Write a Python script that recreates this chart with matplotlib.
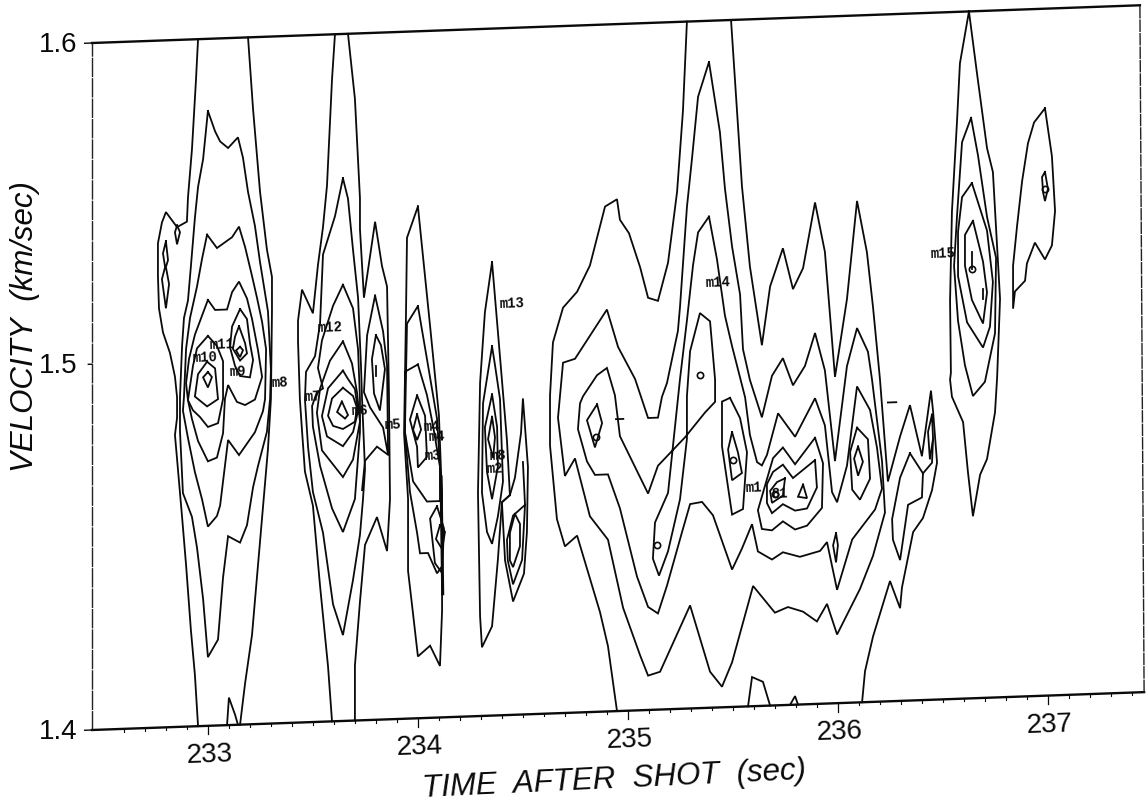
import matplotlib
matplotlib.use('Agg')
import matplotlib.pyplot as plt
from matplotlib.transforms import Affine2D

# contour vertices as (time after shot in s, velocity in km/s)
a_outer_left = [(232.955,1.600),(232.945,1.588),(232.926,1.568),(232.907,1.554),(232.902,1.547),(232.855,1.5455),(232.802,1.550),(232.783,1.547),(232.764,1.541),(232.764,1.5315),(232.769,1.522),(232.788,1.515),(232.821,1.509),(232.845,1.502),(232.855,1.496),(232.855,1.490),(232.845,1.485),(232.855,1.478),(232.879,1.461),(232.898,1.447),(232.921,1.428),(232.940,1.415),(232.955,1.400)]
a_outer_right = [(233.155,1.400),(233.179,1.412),(233.212,1.426),(233.226,1.436),(233.25,1.453),(233.288,1.480),(233.302,1.4945),(233.307,1.520),(233.307,1.530),(233.283,1.538),(233.25,1.555),(233.217,1.579),(233.193,1.600)]
a_bottom = [(233.093,1.400),(233.102,1.408),(233.131,1.403),(233.145,1.400)]
a2 = [(233.002,1.579),(233.036,1.573),(233.06,1.570),(233.098,1.568),(233.145,1.571),(233.169,1.565),(233.193,1.555),(233.226,1.545),(233.25,1.5345),(233.288,1.520),(233.302,1.503),(233.298,1.4945),(233.283,1.485),(233.24,1.475),(233.217,1.469),(233.188,1.458),(233.155,1.453),(233.098,1.455),(233.074,1.443),(233.05,1.425),(233.002,1.420),(232.979,1.437),(232.95,1.452),(232.926,1.461),(232.883,1.468),(232.869,1.486),(232.869,1.496),(232.879,1.511),(232.888,1.519),(232.907,1.524),(232.921,1.534),(232.94,1.548),(232.955,1.557),(232.979,1.565)]
a3 = [(232.998,1.543),(233.045,1.539),(233.117,1.542),(233.15,1.545),(233.179,1.539),(233.212,1.5305),(233.236,1.524),(233.26,1.517),(233.279,1.509),(233.274,1.4945),(233.264,1.491),(233.226,1.485),(233.15,1.4785),(233.098,1.483),(233.083,1.4755),(233.06,1.464),(233.045,1.461),(233.002,1.458),(232.974,1.466),(232.94,1.474),(232.907,1.484),(232.883,1.492),(232.888,1.496),(232.898,1.510),(232.917,1.519),(232.95,1.528),(232.974,1.536)]
a4 = [(233.002,1.524),(233.036,1.521),(233.093,1.521),(233.117,1.526),(233.15,1.529),(233.188,1.524),(233.212,1.518),(233.24,1.509),(233.26,1.501),(233.226,1.4945),(233.179,1.493),(233.14,1.494),(233.098,1.499),(233.083,1.495),(233.074,1.485),(233.045,1.478),(233.002,1.477),(232.955,1.483),(232.926,1.4895),(232.907,1.495),(232.898,1.500),(232.912,1.507),(232.94,1.514)]
a5 = [(233.002,1.5135),(232.95,1.510),(232.931,1.505),(232.907,1.495),(232.931,1.492),(232.964,1.490),(233.002,1.487),(233.05,1.488),(233.074,1.495),(233.074,1.506),(233.045,1.5105)]
a6 = [(232.998,1.506),(232.955,1.5025),(232.94,1.496),(232.998,1.493),(233.05,1.495),(233.036,1.504)]
a7 = [(233.002,1.503),(233.021,1.5015),(233.002,1.4985),(232.979,1.5015)]
a8 = [(233.155,1.521),(233.188,1.518),(233.202,1.511),(233.217,1.506),(233.202,1.501),(233.155,1.5015),(233.131,1.5045),(233.107,1.510),(233.117,1.516)]
a9 = [(233.15,1.516),(233.179,1.511),(233.188,1.508),(233.155,1.506),(233.121,1.5095),(233.131,1.513)]
a10 = [(233.155,1.510),(233.169,1.509),(233.155,1.507),(233.136,1.509)]
a_eight = [(232.802,1.5415),(232.812,1.536),(232.802,1.534),(232.817,1.529),(232.802,1.522),(232.783,1.5305),(232.798,1.534),(232.788,1.538)]
a_small = [(232.855,1.546),(232.869,1.544),(232.855,1.5405),(232.845,1.544)]

b_outer_left = [(233.607,1.600),(233.593,1.587),(233.569,1.556),(233.55,1.544),(233.526,1.533),(233.502,1.519),(233.45,1.526),(233.431,1.517),(233.431,1.511),(233.44,1.494),(233.45,1.485),(233.464,1.473),(233.502,1.463),(233.536,1.4395),(233.574,1.416),(233.593,1.400)]
b_outer_right = [(233.702,1.400),(233.702,1.416),(233.726,1.4345),(233.75,1.451),(233.807,1.459),(233.855,1.449),(233.869,1.464),(233.864,1.495),(233.855,1.526),(233.831,1.532),(233.798,1.545),(233.745,1.523),(233.726,1.543),(233.726,1.552),(233.702,1.581),(233.669,1.600)]
b2 = [(233.645,1.558),(233.669,1.552),(233.693,1.537),(233.717,1.523),(233.731,1.503),(233.736,1.4935),(233.75,1.473),(233.74,1.464),(233.726,1.454),(233.693,1.441),(233.645,1.425),(233.598,1.434),(233.55,1.455),(233.502,1.467),(233.479,1.480),(233.464,1.494),(233.469,1.502),(233.512,1.5065),(233.536,1.516),(233.55,1.536),(233.607,1.547)]
b3 = [(233.645,1.527),(233.693,1.520),(233.717,1.508),(233.726,1.4935),(233.726,1.484),(233.702,1.4645),(233.645,1.455),(233.593,1.462),(233.536,1.4745),(233.502,1.486),(233.498,1.492),(233.521,1.496),(233.55,1.497),(233.526,1.503),(233.545,1.511),(233.598,1.521)]
b4 = [(233.645,1.5105),(233.688,1.504),(233.712,1.4955),(233.726,1.487),(233.693,1.476),(233.645,1.471),(233.545,1.479),(233.521,1.490),(233.536,1.497),(233.583,1.505)]
b5 = [(233.645,1.502),(233.669,1.4995),(233.702,1.4965),(233.717,1.490),(233.693,1.484),(233.645,1.480),(233.569,1.483),(233.545,1.489),(233.574,1.497)]
b6 = [(233.645,1.497),(233.693,1.4945),(233.712,1.491),(233.702,1.487),(233.645,1.485),(233.598,1.486),(233.574,1.489),(233.593,1.494)]
b7 = [(233.64,1.493),(233.617,1.490),(233.655,1.488),(233.669,1.489)]
b_lobe = [(233.798,1.5235),(233.836,1.513),(233.855,1.503),(233.86,1.477),(233.836,1.485),(233.774,1.491),(233.745,1.4955),(233.76,1.512)]
b_notch = [(233.86,1.477),(233.807,1.4795),(233.75,1.4755),(233.736,1.467)]
b_lobe_in = [(233.802,1.512),(233.783,1.505),(233.793,1.495),(233.821,1.490),(233.845,1.502),(233.826,1.509)]
b_tick = [(233.802,1.503),(233.802,1.500)]

c1 = [(234.002,1.549),(234.026,1.5345),(234.06,1.514),(234.102,1.488),(234.117,1.4635),(234.117,1.431),(234.107,1.415),(234.06,1.421),(234.002,1.418),(233.974,1.433),(233.955,1.443),(233.955,1.464),(233.936,1.483),(233.945,1.517),(233.95,1.540)]
c2 = [(234.002,1.520),(233.95,1.515),(233.94,1.4835),(233.964,1.466),(233.998,1.454),(234.012,1.448),(234.05,1.448),(234.093,1.442),(234.117,1.444),(234.117,1.4635),(234.093,1.487),(234.045,1.5045)]
c3 = [(234.002,1.503),(233.94,1.501),(233.94,1.4835),(233.979,1.469),(234.045,1.463),(234.107,1.463),(234.107,1.473),(234.074,1.485),(234.045,1.494)]
c4 = [(233.998,1.494),(233.964,1.487),(233.998,1.479),(234.002,1.473),(234.045,1.476),(234.036,1.488)]
c5 = [(233.998,1.4885),(233.979,1.484),(233.998,1.481),(234.017,1.484)]
c6 = [(234.093,1.4615),(234.06,1.458),(234.083,1.445),(234.117,1.442),(234.126,1.455)]
c7 = [(234.107,1.456),(234.088,1.452),(234.117,1.449),(234.131,1.454)]
c_thick = [(234.112,1.470),(234.12,1.436)]

d1 = [(234.355,1.532),(234.379,1.5145),(234.426,1.480),(234.44,1.464),(234.402,1.462),(234.383,1.4455),(234.355,1.426),(234.307,1.420),(234.298,1.429),(234.288,1.465),(234.298,1.497),(234.321,1.5175)]
d2 = [(234.355,1.5075),(234.369,1.502),(234.393,1.492),(234.407,1.468),(234.383,1.458),(234.355,1.450),(234.331,1.4535),(234.307,1.465),(234.312,1.491)]
d3 = [(234.355,1.4935),(234.379,1.484),(234.383,1.4725),(234.355,1.463),(234.331,1.471),(234.321,1.484)]
d4 = [(234.355,1.487),(234.369,1.481),(234.36,1.475),(234.336,1.4805)]
d5 = [(234.44,1.464),(234.464,1.469),(234.493,1.482),(234.502,1.492),(234.526,1.472),(234.521,1.453),(234.507,1.441),(234.455,1.433),(234.417,1.445),(234.402,1.462)]
d6 = [(234.502,1.4735),(234.512,1.461),(234.455,1.458),(234.426,1.451),(234.43,1.445),(234.455,1.438),(234.498,1.445),(234.512,1.461)]
d7 = [(234.464,1.4585),(234.44,1.453),(234.44,1.445),(234.455,1.443),(234.488,1.449),(234.488,1.4555)]

big_a = [(234.95,1.400),(234.907,1.419),(234.869,1.429),(234.76,1.4515),(234.702,1.4485),(234.664,1.4565),(234.631,1.478),(234.631,1.4925),(234.645,1.508),(234.693,1.518),(234.76,1.5225),(234.821,1.530),(234.893,1.547),(234.95,1.549),(234.964,1.543),(235.007,1.539),(235.06,1.529),(235.098,1.520),(235.145,1.519),(235.193,1.530),(235.236,1.5505),(235.264,1.574),(235.283,1.600)]
big_a_right = [(235.493,1.600),(235.545,1.5515),(235.583,1.528),(235.64,1.505),(235.679,1.522),(235.74,1.533),(235.788,1.521),(235.836,1.527),(235.893,1.546),(235.94,1.5315),(235.988,1.495),(236.045,1.5175),(236.093,1.546),(236.14,1.531),(236.169,1.515),(236.202,1.494),(236.24,1.464),(236.298,1.477),(236.345,1.486),(236.402,1.471),(236.445,1.490),(236.455,1.484),(236.474,1.469),(236.45,1.461),(236.407,1.453),(236.36,1.449),(236.307,1.433),(236.298,1.427),(236.25,1.435),(236.169,1.419),(236.131,1.409),(236.117,1.400)]
big_b = [(235.388,1.588),(235.336,1.578),(235.307,1.560),(235.283,1.546),(235.25,1.517),(235.24,1.510),(235.188,1.495),(235.164,1.491),(235.145,1.485),(235.098,1.485),(235.036,1.4965),(234.955,1.506),(234.902,1.517),(234.75,1.503),(234.693,1.502),(234.669,1.486),(234.702,1.469),(234.75,1.474),(234.821,1.457),(234.907,1.450),(234.979,1.430),(235.06,1.416),(235.098,1.410),(235.155,1.411),(235.298,1.430),(235.393,1.4105),(235.45,1.406),(235.498,1.413),(235.598,1.435),(235.702,1.427),(235.764,1.4285),(235.836,1.427),(235.902,1.424),(235.95,1.429),(235.998,1.420),(236.107,1.433),(236.169,1.4425),(236.226,1.455),(236.212,1.470),(236.164,1.494),(236.145,1.502),(236.093,1.509),(236.045,1.498),(235.988,1.4705),(235.94,1.497),(235.893,1.508),(235.845,1.4985),(235.788,1.493),(235.74,1.501),(235.688,1.496),(235.64,1.484),(235.583,1.495),(235.55,1.504),(235.536,1.520),(235.498,1.534),(235.464,1.551),(235.44,1.5675)]
big_e = [(235.388,1.543),(235.426,1.5305),(235.464,1.514),(235.498,1.505),(235.56,1.490),(235.583,1.479),(235.617,1.471),(235.64,1.470),(235.664,1.473),(235.717,1.485),(235.798,1.478),(235.893,1.489),(235.94,1.481),(235.974,1.4615),(235.998,1.4585),(236.045,1.469),(236.093,1.492),(236.155,1.485),(236.188,1.474),(236.212,1.462),(236.179,1.456),(236.07,1.4475),(235.998,1.433),(235.95,1.447),(235.917,1.4445),(235.821,1.443),(235.74,1.4445),(235.688,1.4425),(235.621,1.445),(235.593,1.453),(235.545,1.446),(235.498,1.440),(235.407,1.456),(235.355,1.460),(235.298,1.4595),(235.26,1.4515),(235.188,1.436),(235.145,1.428),(235.098,1.430),(235.045,1.439),(234.964,1.459),(234.907,1.469),(234.845,1.469),(234.807,1.473),(234.764,1.4825),(234.774,1.490),(234.788,1.492),(234.855,1.498),(234.902,1.500),(234.94,1.492),(234.964,1.480),(235.098,1.463),(235.145,1.471),(235.274,1.479),(235.369,1.486),(235.417,1.489),(235.417,1.4955),(235.393,1.5125),(235.345,1.515),(235.298,1.504),(235.283,1.491),(235.283,1.4785),(235.25,1.461),(235.193,1.446),(235.15,1.439),(235.121,1.444),(235.131,1.4545),(235.193,1.463),(235.25,1.496),(235.283,1.513),(235.312,1.529),(235.336,1.5385)]
diamond_i = [(234.855,1.4895),(234.879,1.484),(234.845,1.477),(234.807,1.485)]
lobe_k = [(235.488,1.490),(235.536,1.484),(235.569,1.474),(235.55,1.4575),(235.498,1.456),(235.45,1.476),(235.45,1.489)]
lobe_l = [(235.498,1.480),(235.526,1.474),(235.545,1.468),(235.498,1.466),(235.479,1.475)]
lobe_f = [(235.893,1.4775),(235.931,1.470),(235.926,1.457),(235.855,1.452),(235.798,1.451),(235.74,1.4535),(235.688,1.451),(235.64,1.4515),(235.621,1.457),(235.693,1.472),(235.74,1.475),(235.798,1.470)]
lobe_g = [(235.893,1.471),(235.902,1.463),(235.855,1.457),(235.798,1.4565),(235.74,1.4585),(235.688,1.456),(235.664,1.459),(235.664,1.4645),(235.693,1.468),(235.74,1.470),(235.788,1.466)]
lobe_m = [(235.75,1.466),(235.712,1.465),(235.679,1.4625),(235.688,1.459),(235.74,1.461)]
tri = [(235.836,1.464),(235.855,1.460),(235.812,1.4605)]
lobe_n = [(236.093,1.480),(236.145,1.4765),(236.155,1.465),(236.107,1.459),(236.07,1.462),(236.06,1.473)]
lobe_n2 = [(236.098,1.4745),(236.121,1.470),(236.098,1.466),(236.079,1.471)]
sliver = [(235.993,1.4495),(236.002,1.446),(235.993,1.441),(235.979,1.446)]
piece_r = [(236.345,1.472),(236.407,1.466),(236.402,1.459),(236.336,1.457),(236.298,1.441),(236.264,1.447),(236.26,1.453),(236.298,1.465)]
piece_r_link = [(236.407,1.466),(236.45,1.469),(236.455,1.476)]
thin_r = [(236.45,1.483),(236.455,1.476),(236.44,1.470),(236.431,1.478)]
bump_1 = [(235.574,1.400),(235.593,1.4085),(235.645,1.407),(235.679,1.400)]
bump_2 = [(235.774,1.400),(235.798,1.4025),(235.812,1.400)]

o1 = [(236.626,1.600),(236.583,1.585),(236.569,1.568),(236.545,1.542),(236.536,1.516),(236.54,1.495),(236.536,1.493),(236.545,1.488),(236.598,1.4805),(236.621,1.466),(236.645,1.453),(236.679,1.465),(236.712,1.4695),(236.75,1.483),(236.76,1.493),(236.774,1.516),(236.74,1.553),(236.712,1.560),(236.664,1.582)]
o2 = [(236.636,1.569),(236.669,1.558),(236.712,1.540),(236.755,1.528),(236.75,1.506),(236.702,1.492),(236.645,1.488),(236.607,1.497),(236.574,1.510),(236.555,1.526),(236.569,1.5405),(236.593,1.562)]
o3 = [(236.64,1.550),(236.712,1.536),(236.74,1.521),(236.726,1.508),(236.693,1.502),(236.617,1.5095),(236.574,1.523),(236.574,1.536),(236.593,1.546)]
o4 = [(236.645,1.539),(236.693,1.527),(236.712,1.518),(236.693,1.509),(236.64,1.516),(236.607,1.526),(236.607,1.535)]
o_tick_1 = [(236.64,1.530),(236.64,1.525)]
o_tick_2 = [(236.693,1.519),(236.693,1.516)]
p1 = [(236.988,1.571),(236.936,1.567),(236.907,1.561),(236.879,1.550),(236.855,1.537),(236.836,1.5255),(236.836,1.513),(236.845,1.518),(236.893,1.521),(236.902,1.526),(236.94,1.532),(236.988,1.527),(237.021,1.531),(237.036,1.541),(237.021,1.557),(236.988,1.571)]
p2 = [(236.988,1.5525),(236.974,1.551),(236.979,1.5465),(236.988,1.544),(237.002,1.5475)]
dash_1 = [(234.945,1.485),(234.98,1.485)]
dash_2 = [(236.24,1.487),(236.28,1.487)]

closed_contours = [a2, a3, a4, a5, a6, a7, a8, a9, a10, a_eight, a_small,
                   b2, b3, b4, b5, b6, b7, b_lobe, b_lobe_in,
                   c1, c2, c3, c4, c5, c6, c7,
                   d1, d2, d3, d4, d5, d7,
                   big_b, big_e, diamond_i, lobe_k, lobe_l, lobe_f, lobe_g, lobe_m, tri,
                   lobe_n, lobe_n2, sliver, piece_r, thin_r,
                   o2, o3, o4, p2]
open_contours = [a_outer_left, a_outer_right, a_bottom, b_outer_left, b_outer_right,
                 b_notch, b_tick, d6, big_a, big_a_right, piece_r_link, bump_1, bump_2,
                 o1 + o1[:1], o_tick_1, o_tick_2, p1, dash_1, dash_2]

circle_t = [235.14, 235.345, 234.85, 235.5, 235.702, 236.64, 236.988]
circle_v = [1.448, 1.497, 1.480, 1.472, 1.4615, 1.525, 1.5475]

peak_names = ['m11', 'm10', 'm9', 'm8', 'm12', 'm7', 'm6', 'm5', 'm4', 'm3', 'm4', 'm2', 'm8',
              'm13', 'm14', 'm1', '81', 'm15']
peak_t = [233.07, 232.99, 233.145, 233.345, 233.583, 233.5, 233.726, 233.88, 234.094, 234.074,
          234.07, 234.37, 234.38, 234.45, 235.43, 235.6, 235.726, 236.5]
peak_v = [1.511, 1.5075, 1.503, 1.4995, 1.515, 1.495, 1.4905, 1.486, 1.482, 1.4765,
          1.485, 1.472, 1.476, 1.520, 1.524, 1.464, 1.462, 1.530]

x_major = [233, 234, 235, 236, 237]
x_minor = [232.6, 232.7, 232.8, 232.9, 233.1, 233.2, 233.3, 233.4, 233.5, 233.6, 233.7, 233.8, 233.9,
           234.1, 234.2, 234.3, 234.4, 234.5, 234.6, 234.7, 234.8, 234.9,
           235.1, 235.2, 235.3, 235.4, 235.5, 235.6, 235.7, 235.8, 235.9,
           236.1, 236.2, 236.3, 236.4, 236.5, 236.6, 236.7, 236.8, 236.9, 237.1, 237.2, 237.3, 237.4]
# the 1.5 mark sits above the midpoint of the frame on the scan
y_ticks = [1.4, 1.5065, 1.6]
y_labels = ['1.4', '1.5', '1.6']

T0, T1 = 232.45, 237.46
V0, V1 = 1.4, 1.6
ROT = 2.1

plt.rcParams['font.family'] = ['Liberation Sans', 'DejaVu Sans']

fig = plt.figure(figsize=(11.47, 8.04), dpi=100)
ax = fig.add_axes([0, 0, 1, 1])
ax.set_xlim(0, 1147)
ax.set_ylim(804, 0)
ax.axis('off')

# the page was scanned slightly rotated, so time/velocity go through one skewed transform
scan = Affine2D.from_values(210, -7.56, 0, -3435, -48722.5, 7297.32) + ax.transData


def draw(points, lw=1.3, closed=False):
    ts = [p[0] for p in points]
    vs = [p[1] for p in points]
    if closed:
        ts.append(ts[0])
        vs.append(vs[0])
    ax.plot(ts, vs, color='#0a0a0a', lw=lw, transform=scan, solid_joinstyle='miter', clip_on=False)


# frame
ax.plot([T0, T1], [V0, V0], color='#0a0a0a', lw=1.7, transform=scan)
ax.plot([T0, T1 - 0.02], [V1, V1], color='#0a0a0a', lw=1.7, transform=scan)
ax.plot([T0, T0], [V0, V1], color='#222222', lw=1.0, ls=(0, (14, 0.7)), transform=scan)
ax.plot([T1, T1 - 0.02], [V0, V1], color='#222222', lw=1.0, ls=(0, (9, 0.7)), transform=scan)

# ticks
for t in x_major:
    ax.plot([t, t], [V0, V0 - 0.0025], color='#0a0a0a', lw=0.9, transform=scan)
    ax.text(t + 0.008, 1.3918, str(t), transform=scan, rotation=ROT, rotation_mode='anchor',
            ha='center', va='center', fontsize=20, color='#0a0a0a')
for t in x_minor:
    ax.plot([t, t], [V0, V0 - 0.0008], color='#0a0a0a', lw=0.8, transform=scan)
for v, lab in zip(y_ticks, y_labels):
    tick_len = 0.05 if lab == '1.5' else 0.1
    ax.plot([T0 - tick_len * 0.35, T0], [v, v], color='#0a0a0a', lw=1.0, transform=scan)
    ax.text(T0 - 0.071, v, lab, transform=scan, ha='right', va='center', fontsize=20, color='#0a0a0a')

# contours
for c in closed_contours:
    draw(c, closed=True)
for c in open_contours:
    draw(c)
draw(c_thick, lw=2.2)
ax.plot(circle_t, circle_v, 'o', ms=4.5, mfc='none', mec='#0a0a0a', mew=1.2, ls='none', transform=scan)

# peak labels
for name, t, v in zip(peak_names, peak_t, peak_v):
    ax.text(t, v, name, transform=scan, rotation=ROT, rotation_mode='anchor', ha='center', va='center',
            fontsize=10, family='Liberation Mono', fontweight='bold', color='#0a0a0a')

ax.text(234.936, 1.3803, 'TIME  AFTER  SHOT  (sec)', transform=scan, rotation=ROT + 0.6, rotation_mode='anchor',
        ha='center', va='center', fontsize=22.5, style='italic', color='#0a0a0a')
ax.text(232.131, 1.5183, 'VELOCITY  (km/sec)', transform=scan, rotation=90, rotation_mode='anchor',
        ha='center', va='center', fontsize=22.5, style='italic', color='#0a0a0a')

fig.savefig('out.png', dpi=100)
plt.close(fig)
